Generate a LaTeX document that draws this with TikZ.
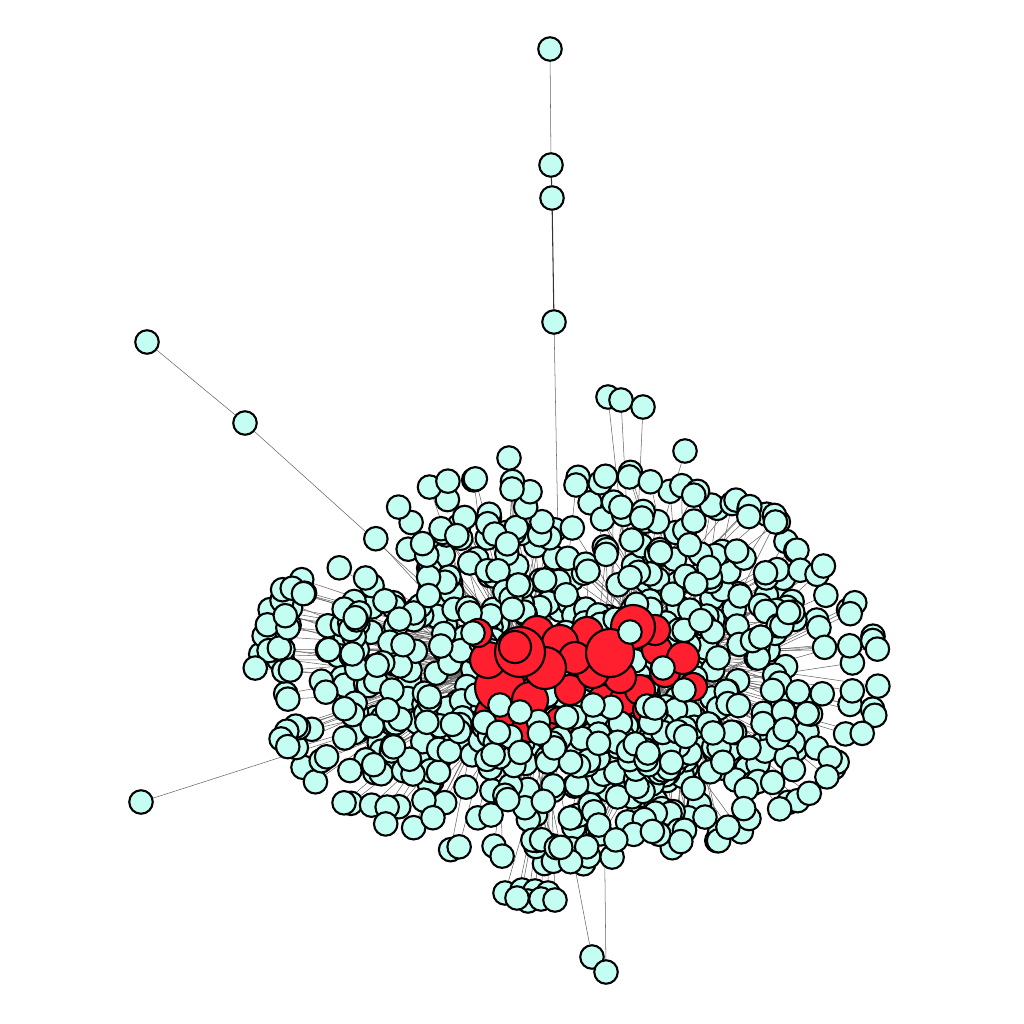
\documentclass[tikz,border=0pt]{standalone}
\usepackage{tikz}
\definecolor{LeafCyan}{HTML}{C4FDF1}
\definecolor{HubRed}{HTML}{FF1F2E}
\pgfdeclarelayer{paper}
\pgfdeclarelayer{edges}
\pgfdeclarelayer{hubs}
\pgfdeclarelayer{front}
\pgfsetlayers{paper,edges,main,hubs,front}
\tikzset{
  leaf/.style={circle,draw=black,line width=0.6pt,fill=LeafCyan,minimum size=0.235cm,inner sep=0pt},
  hub/.style={circle,draw=black,line width=0.6pt,fill=HubRed,inner sep=0pt},
  link/.style={draw=black!60,line width=0.15pt},
  chain/.style={draw=black!80,line width=0.3pt},
}
\begin{document}
\begin{tikzpicture}[x=0.01cm,y=-0.01cm]
  \begin{pgfonlayer}{paper}
  \useasboundingbox[fill=white] (0,0) rectangle (1024,1024);
  \end{pgfonlayer}
  % red core
  \begin{pgfonlayer}{hubs}
  \foreach \n/\x/\y/\d in {25/495/715/0.40,26/530/725/0.34,27/560/722/0.30,5/500/687/0.50,
      19/530/700/0.36,23/488/660/0.36,8/478/633/0.28,11/550/737/0.28,24/570/690/0.30,
      22/603/700/0.30,28/625/700/0.30,20/640/690/0.30,13/647/710/0.28,14/693/687/0.28,
      21/665/672/0.30,10/657/650/0.30,9/620/677/0.32,12/593/672/0.32,29/655/630/0.30,
      16/537/633/0.34,17/587/633/0.32,15/560/643/0.36,6/575/658/0.32,4/633/627/0.44,
      3/545/668/0.42,7/683/658/0.32,1/520/652/0.50,18/515/647/0.32,2/610/653/0.48}
    \node[hub,minimum size=\d cm] (r\n) at (\x,\y) {};
  \end{pgfonlayer}
  % inner cloud
  \pgfmathsetseed{2024}
  \foreach \i in {1,...,580}{
    \pgfmathsetmacro{\ang}{360*rnd}
    \pgfmathsetmacro{\rad}{sqrt(rnd)}
    \node[leaf] (c\i) at ({574+255*\rad*cos(\ang)},{668+168*\rad*sin(\ang)}) {};
  }
  % outer ring
  \foreach \i in {1,...,150}{
    \pgfmathsetmacro{\ang}{360*rnd}
    \pgfmathsetmacro{\rad}{0.87+0.13*rnd}
    \node[leaf] (o\i) at ({570+315*\rad*cos(\ang)},{665+200*\rad*sin(\ang)}) {};
  }
  % cyan in front of the core
  \begin{pgfonlayer}{front}
  \foreach \i in {1,...,50}{
    \pgfmathsetmacro{\ang}{360*rnd}
    \pgfmathsetmacro{\rad}{sqrt(rnd)}
    \node[leaf] (f\i) at ({585+150*\rad*cos(\ang)},{738+32*\rad*sin(\ang)}) {};
  }
  \foreach \n/\x/\y in {51/630/632,52/663/668,53/647/706,54/473/633,55/684/690,56/655/708,
      57/500/705,58/520/712,59/593/705}
    \node[leaf] (f\n) at (\x,\y) {};
  \end{pgfonlayer}
  % outliers
  \node[leaf] (t1) at (550,49) {};
  \node[leaf] (t2) at (551,165) {};
  \node[leaf] (t3) at (552,198) {};
  \node[leaf] (t4) at (554,322) {};
  \node[leaf] (w1) at (147,342) {};
  \node[leaf] (w2) at (245,423) {};
  \node[leaf] (s1) at (141,802) {};
  \node[leaf] (b1) at (592,957) {};
  \node[leaf] (b2) at (606,972) {};
  \node[leaf] (u1) at (608,397) {};
  \node[leaf] (u2) at (621,400) {};
  \node[leaf] (u3) at (643,407) {};
  \node[leaf] (u4) at (685,451) {};
  \node[leaf] (u5) at (509,458) {};
  \node[leaf] (u6) at (512,489) {};
  \node[leaf] (u7) at (576,485) {};
  \foreach \n/\x/\y in {1/505/893,2/522/890,3/535/891,4/548/893,5/528/901,6/517/898,7/541/899,8/555/900}
    \node[leaf] (d\n) at (\x,\y) {};
  % all links
  \begin{pgfonlayer}{edges}
  \foreach \n/\m in {1/3,1/5,1/8,1/15,1/16,1/18,1/19,1/23,1/25,1/26,3/6,3/11,3/24,3/27,2/4,2/6,
      2/7,2/9,2/10,2/12,2/13,2/14,2/17,2/20,2/21,2/22,2/28,2/29,1/2}
    \draw[link] (r\n) -- (r\m);
  \foreach \i in {1,...,580}{
    \path (c\i); \pgfgetlastxy{\nx}{\ny}
    \pgfmathtruncatemacro{\k}{mod(\i,4)}
    \ifdim\nx<160.7pt
      \pgfmathtruncatemacro{\hb}{{1,3,5,18}[\k]}
    \else
      \pgfmathtruncatemacro{\hb}{{2,4,7,12}[\k]}
    \fi
    \draw[link] (c\i) -- (r\hb);
  }
  \foreach \i in {1,...,150}{
    \path (o\i); \pgfgetlastxy{\nx}{\ny}
    \pgfmathtruncatemacro{\k}{mod(\i,3)}
    \ifdim\nx<160.7pt
      \pgfmathtruncatemacro{\hb}{{1,5,23}[\k]}
    \else
      \pgfmathtruncatemacro{\hb}{{2,7,14}[\k]}
    \fi
    \draw[link] (o\i) -- (r\hb);
  }
  \foreach \i in {1,...,59}
    \draw[link] (f\i) -- (r2);
  \draw[link] (t1) -- (t2);
  \draw[chain] (t2) -- (t3);
  \draw[chain] (t3) -- (t4);
  \draw[link] (t4) -- (r15);
  \draw[link] (w1) -- (w2);
  \draw[link] (w2) -- (r8);
  \draw[link] (s1) -- (r5);
  \draw[link] (b1) -- (r11);
  \draw[link] (b2) -- (r22);
  \foreach \n in {1,...,4}
    \draw[link] (u\n) -- (r4);
  \foreach \n in {5,6}
    \draw[link] (u\n) -- (r1);
  \draw[link] (u7) -- (r15);
  \foreach \n in {1,...,8}
    \draw[link] (d\n) -- (r11);
  \end{pgfonlayer}
\end{tikzpicture}
\end{document}
